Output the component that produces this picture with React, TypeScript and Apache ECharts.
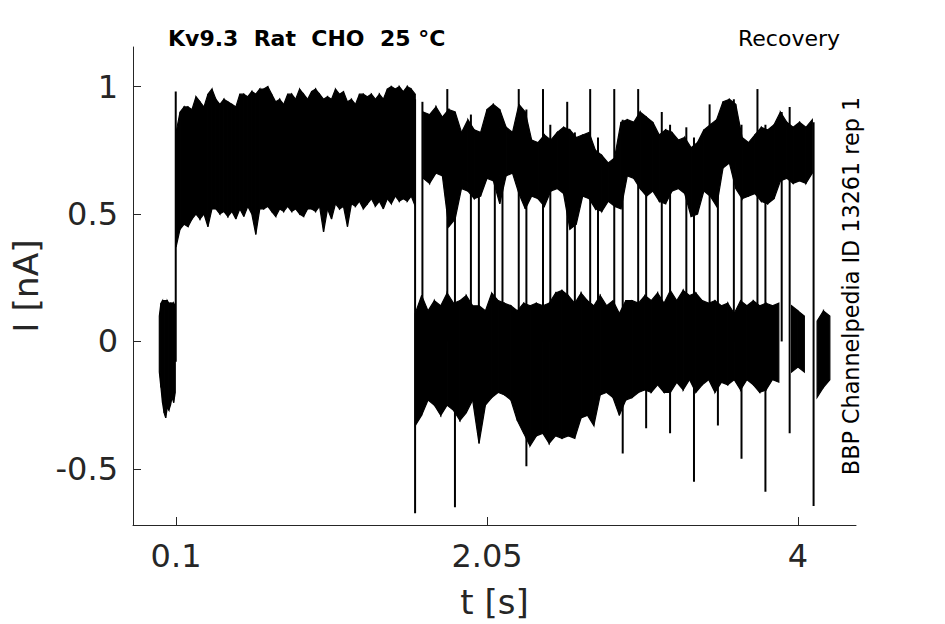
import React, { useEffect, useRef } from "react";
import * as echarts from "echarts";

const FONT = "DejaVu Sans";
const INK = "#000000";
const AXIS = "#262626";

const TITLE_LEFT = "Kv9.3  Rat  CHO  25 °C";
const TITLE_RIGHT = "Recovery";
const SIDE_NOTE = "BBP Channelpedia ID 13261 rep 1";
const X_NAME = "t [s]";
const Y_NAME = "I [nA]";

const xTicks = [0.1, 2.05, 4];
const yTicks = [-0.5, 0, 0.5, 1];
const xRange = [-0.17, 4.364];
const yRange = [-0.72, 1.155];

// baseline noise before the step (upper / lower envelope per bin)
const PRE_T0 = -0.005;
const PRE_DT = 0.01;
const preHi = [0.10, 0.15, 0.16, 0.16, 0.16, 0.16, 0.15, 0.15, 0.15, 0.15, 0.14];
const preLo = [-0.12, -0.18, -0.24, -0.28, -0.30, -0.26, -0.27, -0.25, -0.22, -0.24, -0.20];

// open level during the first pulse
const OPEN1_T0 = 0.1;
const OPEN1_DT = 0.025;
const open1Hi = [
  0.82, 0.90, 0.92, 0.92, 0.91, 0.96, 0.94, 0.92, 0.97, 0.99,
  0.95, 0.93, 0.95, 0.94, 0.93, 0.92, 0.97, 0.97, 0.96, 0.98,
  0.97, 0.99, 0.99, 1.00, 0.97, 0.94, 0.95, 0.93, 0.97, 0.97,
  0.95, 0.99, 0.97, 0.95, 0.98, 0.99, 0.97, 0.95, 0.96, 0.95,
  0.99, 0.97, 0.98, 0.94, 0.95, 0.93, 0.97, 0.97, 0.96, 0.97,
  0.95, 0.97, 0.95, 0.99, 1.00, 0.99, 1.00, 0.98, 1.00, 0.99,
  0.97,
];
const open1Lo = [
  0.37, 0.44, 0.46, 0.45, 0.48, 0.50, 0.48, 0.50, 0.45, 0.52,
  0.52, 0.50, 0.51, 0.49, 0.51, 0.48, 0.52, 0.49, 0.53, 0.50,
  0.42, 0.52, 0.52, 0.53, 0.51, 0.49, 0.52, 0.51, 0.53, 0.51,
  0.52, 0.50, 0.49, 0.52, 0.52, 0.51, 0.53, 0.43, 0.52, 0.48,
  0.54, 0.52, 0.53, 0.45, 0.54, 0.53, 0.55, 0.52, 0.54, 0.56,
  0.53, 0.55, 0.52, 0.56, 0.54, 0.57, 0.55, 0.56, 0.55, 0.57,
  0.53,
];

// closed level during recovery
const CLOSED_T0 = 1.6;
const CLOSED_DT = 0.04;
const closedHi = [
  0.11, 0.18, 0.12, 0.16, 0.14, 0.19, 0.15, 0.16, 0.18, 0.14,
  0.14, 0.12, 0.19, 0.16, 0.15, 0.14, 0.12, 0.15, 0.14, 0.15,
  0.14, 0.15, 0.19, 0.20, 0.18, 0.15, 0.19, 0.16, 0.14, 0.18,
  0.14, 0.16, 0.11, 0.16, 0.16, 0.15, 0.18, 0.16, 0.19, 0.15,
  0.20, 0.16, 0.20, 0.18, 0.19, 0.16, 0.15, 0.16, 0.14, 0.15,
  0.11, 0.16, 0.14, 0.16, 0.14, 0.15, 0.14, 0.15, null, 0.14,
  0.12, 0.10, null, 0.08, 0.12, 0.10,
];
const closedLo = [
  -0.33, -0.29, -0.23, -0.25, -0.29, -0.25, -0.27, -0.31, -0.28, -0.23,
  -0.40, -0.25, -0.22, -0.20, -0.21, -0.23, -0.31, -0.36, -0.41, -0.37,
  -0.36, -0.40, -0.37, -0.38, -0.37, -0.38, -0.30, -0.29, -0.33, -0.21,
  -0.20, -0.22, -0.29, -0.23, -0.22, -0.20, -0.19, -0.20, -0.17, -0.20,
  -0.20, -0.16, -0.19, -0.15, -0.20, -0.17, -0.15, -0.20, -0.16, -0.17,
  -0.15, -0.19, -0.15, -0.17, -0.20, -0.19, -0.15, -0.16, null, -0.12,
  -0.10, -0.12, null, -0.22, -0.18, -0.15,
];

// open level during recovery
const OPEN2_T0 = 1.65;
const OPEN2_DT = 0.04;
const open2Hi = [
  0.90, 0.89, 0.92, 0.88, 0.91, 0.90, 0.82, 0.87, 0.83, 0.82,
  0.91, 0.93, 0.91, 0.84, 0.82, 0.93, 0.90, 0.79, 0.78, 0.81,
  0.79, 0.82, 0.84, 0.83, 0.80, 0.81, 0.82, 0.75, 0.73, 0.70,
  0.72, 0.86, 0.87, 0.86, 0.90, 0.88, 0.86, 0.81, 0.83, 0.82,
  0.79, 0.80, 0.76, 0.78, 0.83, 0.85, 0.87, 0.94, 0.95, 0.93,
  0.80, 0.78, 0.81, 0.84, 0.83, 0.85, 0.90, 0.86, 0.84, 0.86,
  0.84, 0.87,
];
const open2Lo = [
  0.64, 0.62, 0.66, 0.65, 0.45, 0.48, 0.60, 0.59, 0.56, 0.57,
  0.64, 0.63, 0.54, 0.65, 0.66, 0.58, 0.52, 0.57, 0.56, 0.53,
  0.59, 0.60, 0.58, 0.44, 0.46, 0.57, 0.56, 0.52, 0.51, 0.55,
  0.53, 0.52, 0.65, 0.64, 0.60, 0.57, 0.59, 0.55, 0.54, 0.59,
  0.60, 0.58, 0.49, 0.50, 0.59, 0.57, 0.53, 0.68, 0.70, 0.60,
  0.56, 0.57, 0.58, 0.55, 0.54, 0.56, 0.63, 0.64, 0.62, 0.63,
  0.62, 0.66,
];

// single-sample transitions / spikes (time, low end, high end)
const jumpT = [
  0.098, 1.599, 1.645, 1.801, 1.849, 1.949, 1.999, 2.099, 2.147, 2.249,
  2.297, 2.401, 2.447, 2.553, 2.601, 2.697, 2.746, 2.848, 2.901, 2.998,
  3.048, 3.146, 3.198, 3.300, 3.348, 3.446, 3.498, 3.598, 3.646, 3.746,
  3.796, 3.898, 3.948, 4.098,
];
const jumpLo = [
  -0.08, -0.674, 0.0, 0.0, -0.65, 0.0, -0.30, 0.0, 0.0, 0.0,
  -0.49, 0.0, 0.0, 0.0, 0.0, 0.0, 0.0, 0.0, -0.44, 0.0,
  -0.34, 0.0, -0.36, 0.0, -0.55, 0.0, -0.33, 0.0, -0.46, 0.0,
  -0.59, 0.0, -0.36, -0.645,
];
const jumpHi = [
  0.98, 0.95, 0.94, 0.99, 0.88, 0.89, 0.82, 0.92, 0.86, 0.99,
  0.91, 0.99, 0.85, 0.94, 0.82, 0.99, 0.80, 0.99, 0.87, 0.99,
  0.88, 0.90, 0.85, 0.84, 0.80, 0.93, 0.85, 0.95, 0.85, 0.99,
  0.85, 0.90, 0.92, 0.86,
];

type Num = number | null;

function bandQuads(t0: number, dt: number, hi: Num[], lo: Num[]) {
  const out: number[][] = [];
  for (let i = 0; i + 1 < hi.length; i++) {
    const a = hi[i], b = hi[i + 1], c = lo[i], d = lo[i + 1];
    if (a == null || b == null || c == null || d == null) continue;
    out.push([t0 + i * dt, a, c, t0 + (i + 1) * dt, b, d]);
  }
  return out;
}

function bandSeries(name: string, data: number[][]) {
  return {
    type: "custom",
    name,
    clip: true,
    encode: { x: [0, 3], y: [1, 2, 4, 5] },
    data,
    renderItem: (_p: any, api: any) => {
      const p1 = api.coord([api.value(0), api.value(1)]);
      const p2 = api.coord([api.value(3), api.value(4)]);
      const p3 = api.coord([api.value(3), api.value(5)]);
      const p4 = api.coord([api.value(0), api.value(2)]);
      return {
        type: "polygon",
        shape: { points: [p1, p2, p3, p4] },
        style: { fill: INK, stroke: INK, lineWidth: 1.2, lineJoin: "miter" },
      };
    },
  };
}

export default function App() {
  const ref = useRef<HTMLDivElement>(null);

  useEffect(() => {
    document.body.style.margin = "0";
    if (!ref.current) return;
    const chart = echarts.init(ref.current, undefined, { renderer: "svg" });

    const jumps = jumpT.map((t, i) => [t, jumpLo[i], jumpHi[i]]);

    const option: any = {
      animation: false,
      backgroundColor: "#ffffff",
      title: [
        {
          text: TITLE_LEFT,
          left: 168,
          top: 27,
          padding: 0,
          textStyle: { fontFamily: FONT, fontWeight: "bold", fontSize: 22, color: INK },
        },
        {
          text: TITLE_RIGHT,
          right: 105,
          top: 27,
          padding: 0,
          textStyle: { fontFamily: FONT, fontWeight: "normal", fontSize: 22, color: INK },
        },
      ],
      graphic: [
        {
          type: "text",
          x: 851,
          y: 286,
          rotation: Math.PI / 2,
          style: {
            text: SIDE_NOTE,
            fontFamily: FONT,
            fontSize: 22.3,
            fill: INK,
            align: "center",
            verticalAlign: "middle",
          },
        },
      ],
      grid: { left: 130, right: 89, top: 47, bottom: 98, containLabel: false },
      xAxis: {
        type: "value",
        min: xRange[0],
        max: xRange[1],
        name: X_NAME,
        nameLocation: "middle",
        nameGap: 60,
        nameTextStyle: { fontFamily: FONT, fontSize: 34, color: AXIS },
        axisLine: { show: true, onZero: false, lineStyle: { color: AXIS, width: 1 } },
        axisTick: { show: true, inside: true, length: 8, customValues: xTicks, lineStyle: { color: AXIS, width: 1 } },
        axisLabel: { show: true, customValues: xTicks, margin: 15, fontFamily: FONT, fontSize: 32, color: AXIS },
        splitLine: { show: false },
      },
      yAxis: {
        type: "value",
        min: yRange[0],
        max: yRange[1],
        name: Y_NAME,
        nameLocation: "middle",
        nameGap: 90,
        nameTextStyle: { fontFamily: FONT, fontSize: 34.5, color: AXIS },
        axisLine: { show: true, onZero: false, lineStyle: { color: AXIS, width: 1 } },
        axisTick: { show: true, inside: true, length: 8, customValues: yTicks, lineStyle: { color: AXIS, width: 1 } },
        axisLabel: { show: true, customValues: yTicks, margin: 15, fontFamily: FONT, fontSize: 32, color: AXIS },
        splitLine: { show: false },
      },
      series: [
        bandSeries("baseline", bandQuads(PRE_T0, PRE_DT, preHi, preLo)),
        bandSeries("open pulse", bandQuads(OPEN1_T0, OPEN1_DT, open1Hi, open1Lo)),
        bandSeries("closed recovery", bandQuads(CLOSED_T0, CLOSED_DT, closedHi, closedLo)),
        bandSeries("open recovery", bandQuads(OPEN2_T0, OPEN2_DT, open2Hi, open2Lo)),
        {
          type: "custom",
          name: "transitions",
          clip: true,
          encode: { x: 0, y: [1, 2] },
          data: jumps,
          renderItem: (_p: any, api: any) => {
            const a = api.coord([api.value(0), api.value(1)]);
            const b = api.coord([api.value(0), api.value(2)]);
            return {
              type: "line",
              shape: { x1: a[0], y1: a[1], x2: b[0], y2: b[1] },
              style: { stroke: INK, lineWidth: 2 },
            };
          },
        },
      ],
    };

    chart.setOption(option);
    return () => chart.dispose();
  }, []);

  return <div ref={ref} style={{ width: 945, height: 624 }} />;
}
